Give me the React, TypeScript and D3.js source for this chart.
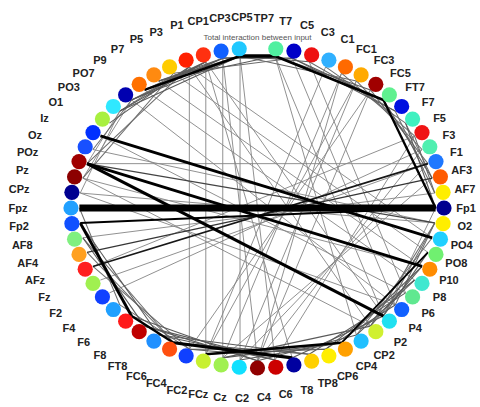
import React, { useEffect, useRef } from "react";
import * as d3 from "d3";

// EEG channels in ring order, counter-clockwise starting at the right (Fp1)
const channels = [
  "Fp1", "AF7", "AF3", "F1", "F3", "F5", "F7", "FT7", "FC5", "FC3", "FC1", "C1", "C3", "C5", "T7", "TP7",
  "CP5", "CP3", "CP1", "P1", "P3", "P5", "P7", "P9", "PO7", "PO3", "O1", "Iz", "Oz", "POz", "Pz", "CPz",
  "Fpz", "Fp2", "AF8", "AF4", "AFz", "Fz", "F2", "F4", "F6", "F8", "FT8", "FC6", "FC4", "FC2", "FCz", "Cz",
  "C2", "C4", "C6", "T8", "TP8", "CP6", "CP4", "CP2", "P2", "P4", "P6", "P8", "P10", "PO8", "PO4", "O2",
];

// node colours (null = node not drawn)
const nodeColors: (string | null)[] = [
  "#00008f", "#ffee00", "#ff5a00", "#1e78ff", "#50efb0", "#f01414", "#40f0c0", "#0010e0",
  "#60f090", "#a00000", "#ffaa00", "#ff6a00", "#30b0ff", "#ee1010", "#0000c8", "#50f0a0",
  null, "#20c8ff", "#1060ff", "#ff3010", "#ff2000", "#ffcc00", "#ff8a10", "#ff7000",
  "#0000b0", "#30e8ff", "#a8f040", "#0030ff", "#1850ff", "#a00000", "#8c0000", "#000090",
  "#20a0ff", "#1050ff", "#80f080", "#ffa020", "#ff2020", "#a0f050", "#1040ff", "#20a0ff",
  "#ff1a1a", "#c00000", "#2090ff", "#ff5010", "#1040ff", "#c8f030", "#a0f050", "#10e0ff",
  "#900000", "#cc0000", "#0000a0", "#ffd000", "#ffee00", "#ffa000", "#20c0ff", "#d0f030",
  "#20e0f0", "#1060ff", "#60e890", "#40e8d0", "#ff8c00", "#70f070", "#20d0ff", "#ffee00",
];

// interaction links: [channel A, channel B, strength]
const links: [string, string, number][] = [
  // strong interactions
  ["Fpz", "Fp1", 1.0],
  ["Iz", "PO4", 0.6],
  ["POz", "P10", 0.6],
  ["POz", "P2", 0.65],
  ["CP3", "TP7", 0.7],
  ["CP3", "P9", 0.55],
  ["TP7", "FC5", 0.55],
  ["FC5", "Fp1", 0.5],
  ["Fp2", "F6", 0.6],
  ["F6", "FC6", 0.5],
  ["FC6", "C6", 0.65],
  ["FC2", "CP6", 0.55],
  ["CP6", "PO8", 0.4],
  ["Fp2", "Fp1", 0.4],
  ["AFz", "F1", 0.35],
  ["AF4", "AF3", 0.28],
  ["POz", "O2", 0.25],
  // neighbouring regions
  ["CP1", "PO7", 0.2], ["P1", "PO3", 0.2], ["P3", "O1", 0.2], ["CP3", "PO3", 0.2],
  ["CP1", "P9", 0.2], ["P1", "PO7", 0.18], ["PO7", "Oz", 0.18], ["P3", "POz", 0.18],
  ["P5", "Pz", 0.18], ["PO3", "POz", 0.15], ["TP7", "P7", 0.2],
  ["T7", "P5", 0.18], ["T7", "CP1", 0.2], ["C5", "CP3", 0.2], ["TP7", "CP1", 0.2],
  ["CP3", "P7", 0.2], ["CP1", "P7", 0.2], ["P1", "P9", 0.2], ["CP3", "PO7", 0.2],
  ["P3", "PO3", 0.18], ["PO7", "Pz", 0.15], ["PO3", "CPz", 0.15],
  ["T7", "FC5", 0.2], ["TP7", "FC3", 0.2], ["CP3", "FC1", 0.18], ["C5", "FT7", 0.18],
  ["C3", "F7", 0.18], ["C1", "F5", 0.18], ["FC1", "F3", 0.18], ["FC3", "F1", 0.18],
  ["FT7", "AF7", 0.18], ["FC5", "AF3", 0.2], ["F7", "Fp1", 0.2], ["T7", "FT7", 0.2],
  ["AF7", "F5", 0.18], ["AF3", "F7", 0.18],
  ["AF8", "F8", 0.2], ["Fp2", "FT8", 0.2], ["AF4", "FC6", 0.18], ["Fpz", "F4", 0.18],
  ["AF8", "FC6", 0.18], ["AFz", "FC4", 0.18], ["F4", "FC4", 0.18],
  ["FT8", "T8", 0.2], ["FC4", "TP8", 0.2], ["Cz", "CP6", 0.2], ["C2", "CP4", 0.2],
  ["C6", "P2", 0.2], ["FCz", "CP2", 0.2], ["F8", "C4", 0.2], ["F6", "C2", 0.2],
  ["FT8", "C4", 0.2], ["F8", "C2", 0.2], ["FC4", "C6", 0.2], ["FC6", "T8", 0.2],
  ["FC2", "TP8", 0.2], ["FCz", "CP6", 0.2],
  ["CP4", "PO4", 0.18], ["CP2", "O2", 0.18], ["P2", "Fp1", 0.15], ["TP8", "P8", 0.2],
  ["CP6", "P10", 0.2], ["T8", "P6", 0.2], ["CP4", "P8", 0.2], ["CP2", "P10", 0.2],
  ["P2", "PO8", 0.2], ["P4", "O2", 0.18], ["TP8", "P4", 0.2], ["P2", "O2", 0.18],
  // long-range interactions
  ["CP3", "Cz", 0.15], ["CP1", "FCz", 0.15], ["P1", "FC2", 0.15], ["CP3", "C4", 0.15],
  ["CP1", "C2", 0.15], ["P3", "FC4", 0.15], ["P1", "C6", 0.15],
  ["FC1", "Cz", 0.15], ["FC3", "C2", 0.15], ["C1", "FCz", 0.15], ["C3", "FC2", 0.15],
  ["FC1", "FC2", 0.15], ["FC3", "FC4", 0.15], ["C1", "C2", 0.15],
  ["TP7", "P2", 0.15], ["T7", "P4", 0.15], ["C5", "P6", 0.15], ["TP7", "CP4", 0.15],
  ["P7", "P10", 0.15], ["P9", "P8", 0.15], ["PO7", "P4", 0.15], ["P5", "PO8", 0.15],
  ["P3", "PO4", 0.15], ["Pz", "CP2", 0.15], ["CPz", "P4", 0.15], ["Iz", "P6", 0.15],
  ["Oz", "O2", 0.15], ["Pz", "P10", 0.15], ["CPz", "O2", 0.15],
  ["AFz", "F5", 0.15], ["Fz", "F1", 0.15], ["AF8", "AF7", 0.15], ["F2", "F3", 0.15],
  ["POz", "F1", 0.15], ["P2", "P1", 0.15], ["CP2", "P3", 0.15],
  ["C2", "F3", 0.15], ["Cz", "F1", 0.15], ["FCz", "AF3", 0.15], ["C4", "F5", 0.15],
];

const title = "Total interaction between input";

const W = 480;
const H = 407;

export default function App() {
  const ref = useRef<SVGSVGElement>(null);

  useEffect(() => {
    const svg = d3.select(ref.current);
    svg.selectAll("*").remove();

    const n = channels.length;
    const angle = d3.scaleLinear().domain([0, n]).range([0, 2 * Math.PI]);

    // ring of nodes and ring of labels
    const ring = { cx: 257.5, cy: 208, rx: 186.5, ry: 160 };
    const labelRing = { cx: 242, cy: 207.5, rx: 224, ry: 190.5 };
    const inner = 0.955;

    const pos = (i: number, r: typeof ring, k = 1) => {
      const a = angle(i);
      return [r.cx + k * r.rx * Math.cos(a), r.cy - k * r.ry * Math.sin(a)];
    };

    const index = new Map(channels.map((c, i) => [c, i]));

    const width = d3
      .scaleLinear()
      .domain([0.15, 0.4, 0.7, 1])
      .range([0.9, 1.8, 3.4, 7])
      .clamp(true);
    const color = d3
      .scaleLinear<string>()
      .domain([0.15, 0.2, 0.4])
      .range(["#858585", "#5a5a5a", "#000000"])
      .clamp(true);

    svg.append("rect").attr("width", W).attr("height", H).attr("fill", "#fff");

    const sorted = [...links].sort((a, b) => a[2] - b[2]);
    const line = d3.line();

    svg
      .append("g")
      .selectAll("path")
      .data(sorted)
      .join("path")
      .attr("d", (d) =>
        line([
          pos(index.get(d[0])!, ring, inner) as [number, number],
          pos(index.get(d[1])!, ring, inner) as [number, number],
        ])
      )
      .attr("fill", "none")
      .attr("stroke", (d) => color(d[2]))
      .attr("stroke-width", (d) => width(d[2]))
      .attr("stroke-linecap", "butt");

    svg
      .append("g")
      .selectAll("circle")
      .data(channels.map((c, i) => ({ c, i, col: nodeColors[i] })).filter((d) => d.col))
      .join("circle")
      .attr("cx", (d) => pos(d.i, ring)[0])
      .attr("cy", (d) => pos(d.i, ring)[1])
      .attr("r", 7.6)
      .attr("fill", (d) => d.col as string);

    svg
      .append("g")
      .selectAll("text")
      .data(channels.map((c, i) => ({ c, i })))
      .join("text")
      .attr("x", (d) => pos(d.i, labelRing)[0])
      .attr("y", (d) => pos(d.i, labelRing)[1])
      .attr("text-anchor", "middle")
      .attr("dominant-baseline", "central")
      .attr("font-family", "'Liberation Sans', Arial, sans-serif")
      .attr("font-size", 11)
      .attr("font-weight", "bold")
      .attr("fill", "#222")
      .text((d) => d.c);

    svg
      .append("text")
      .attr("x", 257.5)
      .attr("y", 37)
      .attr("text-anchor", "middle")
      .attr("dominant-baseline", "central")
      .attr("font-family", "'Liberation Sans', Arial, sans-serif")
      .attr("font-size", 8)
      .attr("fill", "#555")
      .text(title);
  }, []);

  return (
    <svg
      ref={ref}
      width={W}
      height={H}
      style={{ position: "absolute", left: 0, top: 0, display: "block" }}
    />
  );
}
